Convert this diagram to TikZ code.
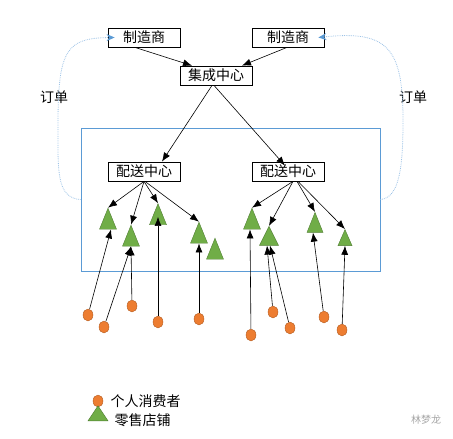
\documentclass[tikz,border=0pt]{standalone}
\usepackage{fontspec}
\setmainfont{Noto Sans CJK SC}
\usetikzlibrary{arrows.meta,shapes.geometric}
\definecolor{areablue}{HTML}{5B9BD5}
\definecolor{orderblue}{HTML}{9DC3E6}
\definecolor{shopgreen}{HTML}{70AD47}
\definecolor{shopedge}{HTML}{507E32}
\definecolor{custorange}{HTML}{ED7D31}
\definecolor{custedge}{HTML}{AE5A21}
\begin{document}
\begin{tikzpicture}[x=1pt,y=-1pt,font=\fontsize{14}{16}\selectfont,
	box/.style={draw, line width=0.8pt, minimum width=72pt, minimum height=19pt, inner sep=0pt},
	shop/.style={isosceles triangle, isosceles triangle stretches, shape border rotate=90, draw=shopedge, fill=shopgreen, minimum width=17pt, minimum height=21pt, inner sep=0pt},
	cust/.style={ellipse, draw=custedge, fill=custorange, minimum width=10pt, minimum height=12pt, inner sep=0pt},
	arr/.style={-{Latex[length=9pt,width=7pt]}, line width=0.6pt},
	order/.style={densely dotted, orderblue, line width=0.8pt, -{Stealth[length=8pt,width=7pt,areablue]}}]
	\useasboundingbox (0,0) rectangle (453,439);
	% region of the two distribution centres
	\node (area) at (230.5,199.5) [draw=areablue, line width=0.8pt, minimum width=299pt, minimum height=143pt, inner sep=0pt] {};
	\node (M1) at (144, 37.5)	[box]	{制造商};
	\node (M2) at (288, 37.5)	[box]	{制造商};
	\node (I)  at (216, 75.5)	[box]	{集成中心};
	\node (D1) at (144,171.5)	[box]	{配送中心};
	\node (D2) at (288,171.5)	[box]	{配送中心};
	\node (O1) at ( 54, 97)		{订单};
	\node (O2) at (413, 97)		{订单};
	% retail stores
	\node (S1) at (108,223.5)	[shop] {};
	\node (S2) at (131,240.5)	[shop] {};
	\node (S3) at (158,219)		[shop] {};
	\node (S4) at (199,237.5)	[shop] {};
	\node (S5) at (215,253.5)	[shop] {};
	\node (S6) at (252,223.5)	[shop] {};
	\node (S7) at (269,239.5)	[shop, minimum width=19pt, minimum height=19pt] {};
	\node (S8) at (315,227)		[shop, minimum width=16pt, minimum height=20pt] {};
	\node (S9) at (345,241)		[shop, minimum width=14pt, minimum height=16pt] {};
	% consumers
	\node (C1)  at ( 88,315)	[cust] {};
	\node (C2)  at (104,327)	[cust] {};
	\node (C3)  at (132,306)	[cust] {};
	\node (C4)  at (158,322)	[cust] {};
	\node (C5)  at (199,319)	[cust] {};
	\node (C6)  at (251,335)	[cust] {};
	\node (C7)  at (273,312)	[cust] {};
	\node (C8)  at (290,328)	[cust] {};
	\node (C9)  at (324,317)	[cust] {};
	\node (C10) at (342,330)	[cust] {};
	% legend
	\node (LC) at ( 98,401)		[cust] {};
	\node (LS) at ( 98,415.5)	[shop, minimum width=20pt, minimum height=15pt] {};
	\node (LCt) at (107,401)	[anchor=west] {个人消费者};
	\node (LSt) at (111,420)	[anchor=west] {零售店铺};
	\node (WM) at (426,420)		[gray!70, font=\fontsize{10}{12}\selectfont] {林梦龙};
	% flows
	\draw[arr] ([xshift=-9pt]M1.south) -- ([xshift=-24pt]I.north);
	\draw[arr] ([xshift=-1pt]M2.south) -- ([xshift=26pt]I.north);
	\draw[arr] ([xshift=-4pt]I.south) -- ([xshift=18pt]D1.north);
	\draw[arr] ([xshift=-2pt]I.south) -- ([xshift=-3pt,yshift=-4pt]D2.north);
	\draw[arr] (D1.south) -- (S1.apex);
	\draw[arr] (D1.south) -- (S2.apex);
	\draw[arr] (D1.south) -- (S3.apex);
	\draw[arr] ([xshift=1pt]D1.south) -- (S4.apex);
	\draw[arr] ([xshift=5pt]D2.south) -- (S6.apex);
	\draw[arr] ([xshift=5pt]D2.south) -- (S7.apex);
	\draw[arr] ([xshift=9pt]D2.south) -- (S8.apex);
	\draw[arr] ([xshift=10pt]D2.south) -- (S9.apex);
	\draw[arr] (C1) -- ([xshift=3pt]S1.south);
	\draw[arr] (C2) -- (S2.south);
	\draw[arr] (C3) -- (S2.south);
	\draw[arr] (C4) -- ([yshift=8pt]S3.south);
	\draw[arr] (C5) -- (S4.south);
	\draw[arr] (C6) -- ([xshift=-2pt]S6.south);
	\draw[arr] (C7) -- ([xshift=-2pt]S7.south);
	\draw[arr] (C8) -- ([xshift=1pt]S7.south);
	\draw[arr] (C9) -- ([xshift=-2pt]S8.south);
	\draw[arr] (C10) -- (S9.south);
	% order feedback
	\draw[order] (area.west) .. controls (56,198) and (58,170) .. (58,125) .. controls (58,50) and (66,38) .. ([xshift=7pt]M1.west);
	\draw[order] (area.east) .. controls (400,198) and (403,165) .. (403,120) .. controls (403,48) and (388,30) .. ([xshift=-6pt]M2.east);
\end{tikzpicture}
\end{document}
